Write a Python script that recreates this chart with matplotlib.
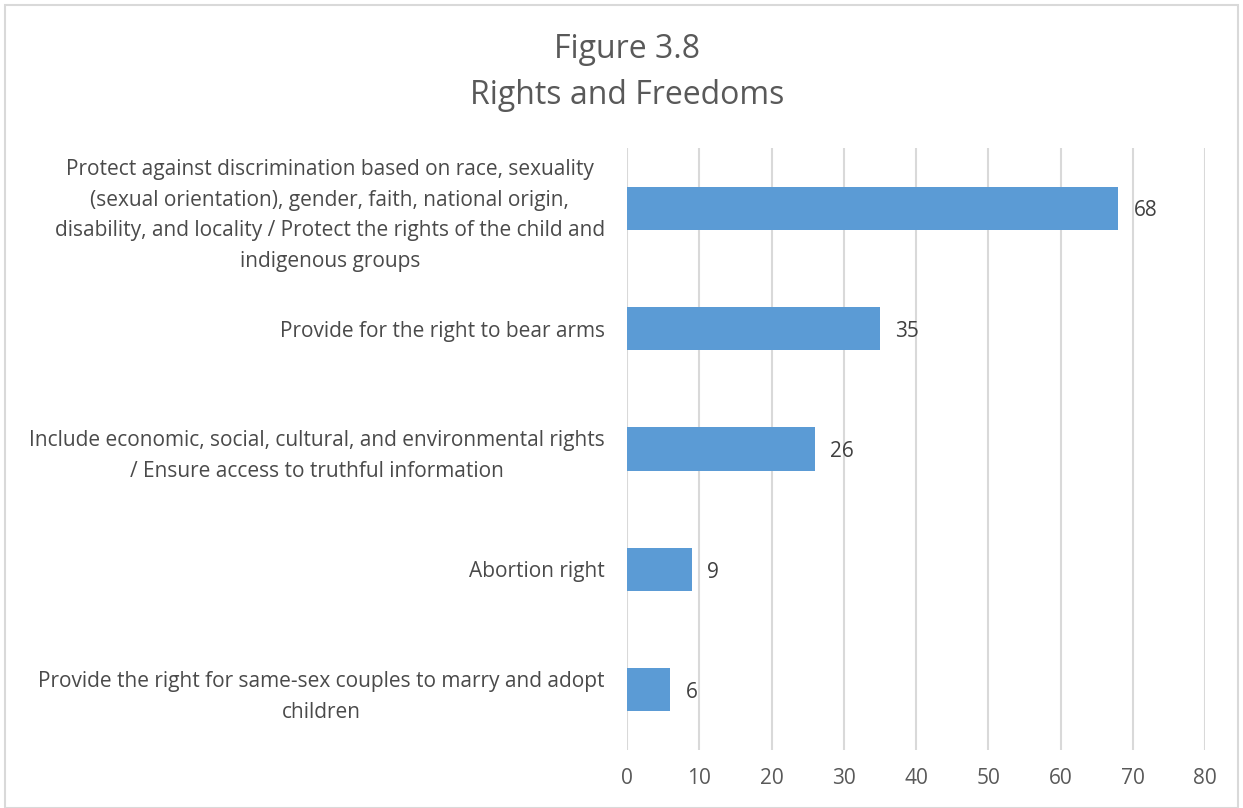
import matplotlib.pyplot as plt
from matplotlib.patches import Rectangle

categories = [
    "Protect against discrimination based on race, sexuality\n(sexual orientation), gender, faith, national origin,\ndisability, and locality / Protect the rights of the child and\nindigenous groups",
    "Provide for the right to bear arms",
    "Include economic, social, cultural, and environmental rights\n/ Ensure access to truthful information",
    "Abortion right",
    "Provide the right for same-sex couples to marry and adopt\nchildren",
]
values = [68, 35, 26, 9, 6]
xticks = [0, 10, 20, 30, 40, 50, 60, 70, 80]
title_lines = ["Figure 3.8", "Rights and Freedoms"]

plt.rcParams['font.family'] = ['Open Sans', 'DejaVu Sans']

W, H = 1243, 808
fig = plt.figure(figsize=(W / 100, H / 100), dpi=100)
fig.patches.append(Rectangle((5 / W, 0), (W - 10) / W, (H - 5) / H, transform=fig.transFigure,
                             fill=False, edgecolor='#d9d9d9', linewidth=1.5))

ax = fig.add_axes([627 / W, 1 - 750 / H, (1205 - 627) / W, (750 - 148) / H])
ypos = list(range(len(categories)))
ax.barh(ypos, values, height=0.36, color='#5b9bd5', zorder=3)
ax.set_ylim(len(categories) - 0.5, -0.5)
ax.set_xlim(0, 80)
ax.set_xticks(xticks)
ax.set_yticks(ypos)
ax.set_yticklabels(categories, fontsize=15, color='#4a4a4a', multialignment='center', linespacing=1.6)
ax.tick_params(axis='y', length=0, pad=16)
ax.tick_params(axis='x', length=0, pad=13, labelsize=15, labelcolor='#595959')
ax.grid(axis='x', color='#d9d9d9', linewidth=1.5, zorder=0)
for s in ax.spines.values():
    s.set_visible(False)

for y, v in zip(ypos, values):
    ax.annotate(str(v), (v, y), xytext=(11, -2), textcoords='offset points',
                va='center', ha='left', fontsize=15, color='#404040')

fig.text(627 / W, 1 - 50 / H, title_lines[0], ha='center', va='center', fontsize=23, color='#595959')
fig.text(627 / W, 1 - 95 / H, title_lines[1], ha='center', va='center', fontsize=23, color='#595959')

fig.savefig('out.png', dpi=100)
